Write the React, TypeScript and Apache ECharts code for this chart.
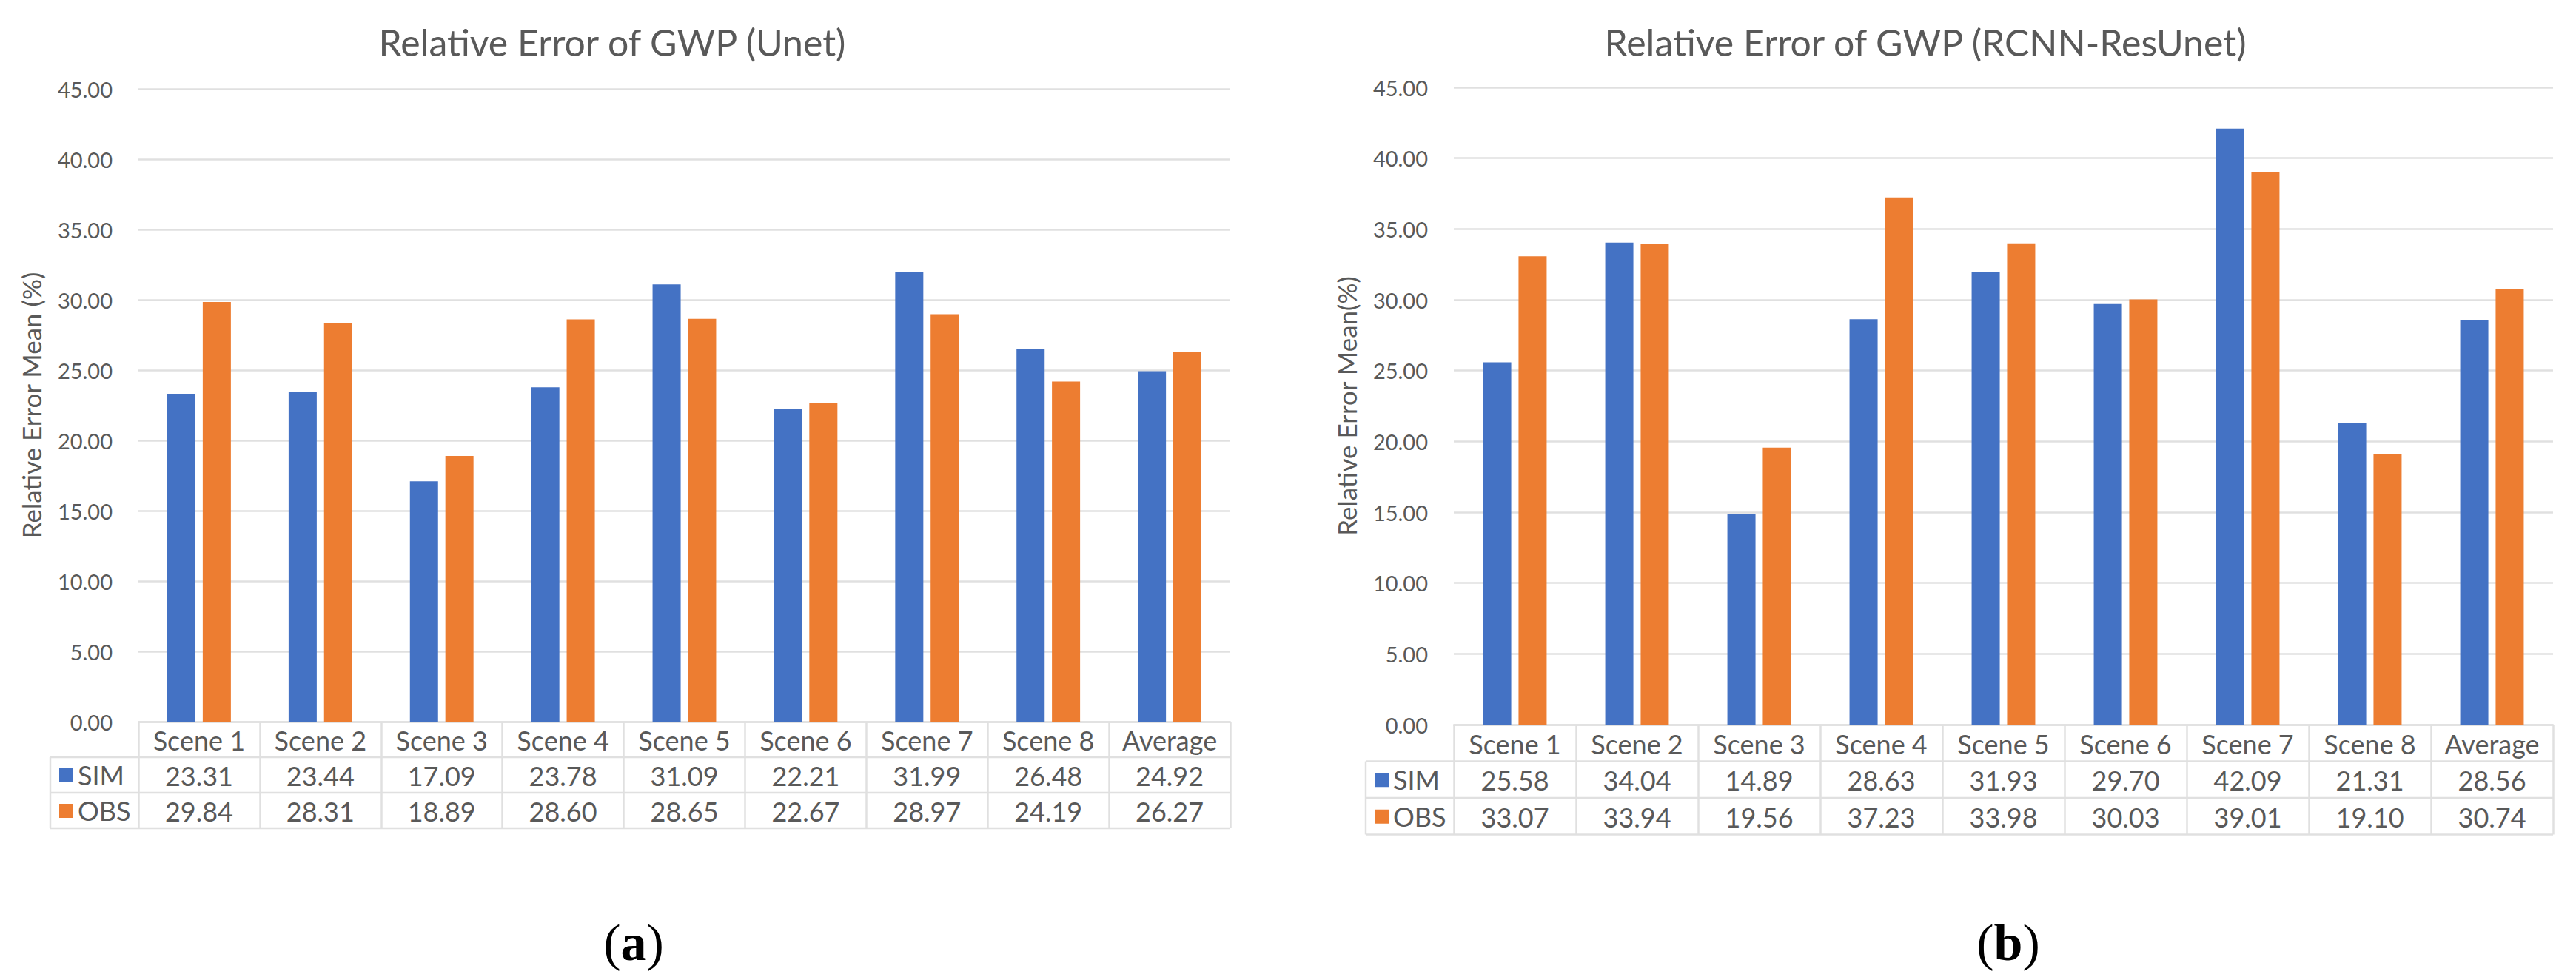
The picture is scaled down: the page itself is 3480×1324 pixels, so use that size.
import React, { useEffect, useRef } from "react";
import * as echarts from "echarts";

const categories = ["Scene 1", "Scene 2", "Scene 3", "Scene 4", "Scene 5", "Scene 6", "Scene 7", "Scene 8", "Average"];
const seriesNames = ["SIM", "OBS"];
const unetSim = [23.31, 23.44, 17.09, 23.78, 31.09, 22.21, 31.99, 26.48, 24.92];
const unetObs = [29.84, 28.31, 18.89, 28.6, 28.65, 22.67, 28.97, 24.19, 26.27];
const rcnnSim = [25.58, 34.04, 14.89, 28.63, 31.93, 29.7, 42.09, 21.31, 28.56];
const rcnnObs = [33.07, 33.94, 19.56, 37.23, 33.98, 30.03, 39.01, 19.1, 30.74];
const yMin = 0;
const yMax = 45;
const yStep = 5;

const W = 3480;
const H = 1324;
const BLUE = "#4472C4";
const ORANGE = "#ED7D31";
const TEXT = "#595959";
const GRID = "#E0E0E0";
const FONT = "Lato, 'Noto Sans', sans-serif";

const panels = [
  {
    title: "Relative Error of GWP (Unet)",
    yName: "Relative Error Mean (%)",
    sim: unetSim,
    obs: unetObs,
    left: 187,
    right: 1662,
    top: 120,
    bottom: 975,
    rowH: 48,
    tableLeft: 68,
    titleX: 822,
    yNameX: 42,
    tag: "a",
    tagX: 856,
  },
  {
    title: "Relative Error of GWP (RCNN-ResUnet)",
    yName: "Relative Error Mean(%)",
    sim: rcnnSim,
    obs: rcnnObs,
    left: 1964,
    right: 3449,
    top: 118,
    bottom: 979,
    rowH: 49.5,
    tableLeft: 1845,
    titleX: 2596,
    yNameX: 1819,
    tag: "b",
    tagX: 2713,
  },
];

export default function App() {
  const ref = useRef<HTMLDivElement>(null);

  useEffect(() => {
    document.body.style.margin = "0";
    if (!ref.current) return;
    const chart = echarts.init(ref.current, undefined, { renderer: "svg", width: W, height: H });

    const graphics: any[] = [];
    panels.forEach((p) => {
      const lineStyle = { stroke: GRID, lineWidth: 2.5 };
      // table horizontal lines
      for (let r = 1; r <= 3; r++) {
        const y = p.bottom + p.rowH * r;
        graphics.push({ type: "line", shape: { x1: p.tableLeft, y1: y, x2: p.right, y2: y }, style: lineStyle, silent: true });
      }
      graphics.push({
        type: "line",
        shape: { x1: p.tableLeft, y1: p.bottom + p.rowH, x2: p.tableLeft, y2: p.bottom + p.rowH * 3 },
        style: lineStyle,
        silent: true,
      });
      // legend column
      const colors = [BLUE, ORANGE];
      seriesNames.forEach((n, k) => {
        const cy = p.bottom + p.rowH * (1.5 + k);
        graphics.push({ type: "rect", shape: { x: p.tableLeft + 12, y: cy - 9, width: 19, height: 19 }, style: { fill: colors[k] } });
        graphics.push({
          type: "text",
          x: p.tableLeft + 37,
          y: cy,
          style: { text: n, fontSize: 36, fontFamily: FONT, fill: TEXT, textAlign: "left", textVerticalAlign: "middle" },
        });
      });
      // y axis name
      graphics.push({
        type: "text",
        x: p.yNameX,
        y: (p.top + p.bottom) / 2,
        rotation: Math.PI / 2,
        style: { text: p.yName, fontSize: 35, fontFamily: FONT, fill: TEXT, textAlign: "center", textVerticalAlign: "middle" },
      });
      // subfigure tag
      graphics.push({
        type: "text",
        x: p.tagX,
        y: 1273,
        style: {
          text: "{p|(}{b|" + p.tag + "}{p|)}",
          textAlign: "center",
          textVerticalAlign: "middle",
          fill: "#000",
          rich: {
            p: { fontFamily: "'Liberation Serif', serif", fontSize: 70, fill: "#000", color: "#000" },
            b: { fontFamily: "'Liberation Serif', serif", fontSize: 70, fontWeight: "bold", fill: "#000", color: "#000" },
          },
        },
      });
    });

    const option: any = {
      animation: false,
      backgroundColor: "#fff",
      title: panels.map((p) => ({
        text: p.title,
        left: p.titleX,
        top: 27,
        textAlign: "center",
        textStyle: { fontSize: 50, fontWeight: "normal", color: TEXT, fontFamily: FONT },
      })),
      grid: panels.map((p) => ({
        left: p.left,
        top: p.top,
        width: p.right - p.left,
        height: p.bottom - p.top,
        containLabel: false,
      })),
      xAxis: panels.map((p, i) => ({
        type: "category",
        gridIndex: i,
        data: categories,
        axisLine: { show: true, lineStyle: { color: GRID, width: 2.5 } },
        axisTick: { show: true, length: p.rowH * 3, interval: 0, lineStyle: { color: GRID, width: 2.5 } },
        axisLabel: {
          interval: 0,
          margin: 1,
          fontSize: 36,
          lineHeight: p.rowH,
          color: TEXT,
          fontFamily: FONT,
          formatter: (v: string, idx: number) => [v, p.sim[idx].toFixed(2), p.obs[idx].toFixed(2)].join("\n"),
        },
      })),
      yAxis: panels.map((p, i) => ({
        type: "value",
        gridIndex: i,
        min: yMin,
        max: yMax,
        interval: yStep,
        axisLine: { show: false },
        axisTick: { show: false },
        axisLabel: { margin: 35, fontSize: 29, color: TEXT, fontFamily: FONT, formatter: (v: number) => v.toFixed(2) },
        splitLine: { show: true, lineStyle: { color: GRID, width: 2.5 } },
      })),
      series: panels.flatMap((p, i) => [
        {
          type: "bar",
          name: seriesNames[0],
          xAxisIndex: i,
          yAxisIndex: i,
          data: p.sim,
          barWidth: 38,
          barGap: "26%",
          itemStyle: { color: BLUE },
        },
        {
          type: "bar",
          name: seriesNames[1],
          xAxisIndex: i,
          yAxisIndex: i,
          data: p.obs,
          barWidth: 38,
          barGap: "26%",
          itemStyle: { color: ORANGE },
        },
      ]),
      graphic: graphics,
    };

    chart.setOption(option);
    return () => chart.dispose();
  }, []);

  return <div ref={ref} style={{ width: W, height: H }} />;
}
